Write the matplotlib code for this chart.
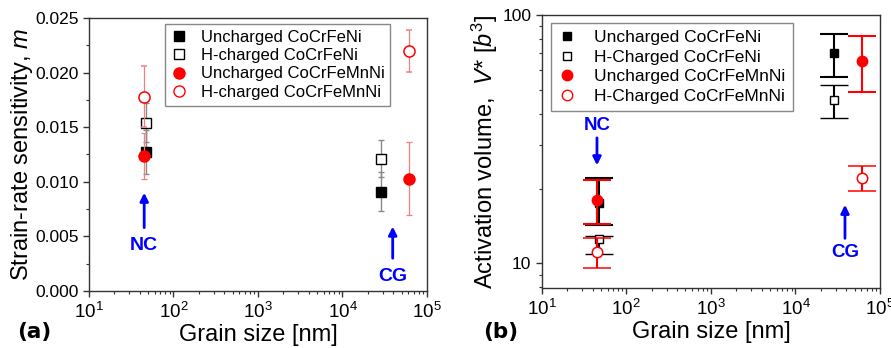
import matplotlib
matplotlib.use("Agg")
import matplotlib.pyplot as plt
from matplotlib.lines import Line2D
from matplotlib.ticker import MultipleLocator, FormatStrFormatter, LogLocator, NullFormatter
import numpy as np

plt.rcParams['font.family'] = ['Liberation Sans', 'DejaVu Sans']
plt.rcParams['mathtext.fontset'] = 'custom'
plt.rcParams['mathtext.rm'] = 'Liberation Sans'
plt.rcParams['mathtext.it'] = 'Liberation Sans:italic'
plt.rcParams['mathtext.bf'] = 'Liberation Sans:bold'

# ---------------- data ----------------
series_labels_a = ["Uncharged CoCrFeNi", "H-charged CoCrFeNi",
                   "Uncharged CoCrFeMnNi", "H-charged CoCrFeMnNi"]
series_labels_b = ["Uncharged CoCrFeNi", "H-Charged CoCrFeNi",
                   "Uncharged CoCrFeMnNi", "H-Charged CoCrFeMnNi"]

# grain sizes [nm]
grain_fe_ni = [47, 28300]
grain_fe_mn_ni = [45, 61000]

# (a) strain-rate sensitivity m
m_unch_feni = [0.0127, 0.0091]
m_unch_feni_err = [0.0020, 0.0018]
m_h_feni = [0.0154, 0.0121]
m_h_feni_err = [0.0018, 0.0017]
m_unch_femnni = [0.0124, 0.0103]
m_unch_femnni_err = [0.0021, 0.0033]
m_h_femnni = [0.0178, 0.0220]
m_h_femnni_err = [0.0028, 0.0019]

# (b) activation volume V* [b^3]  (value, lower, upper)
v_unch_feni = [17.5, 70.0]
v_unch_feni_lo = [14.3, 56.5]
v_unch_feni_hi = [22.1, 83.5]
v_h_feni = [12.5, 45.5]
v_h_feni_lo = [10.9, 38.6]
v_h_feni_hi = [12.9, 52.3]
v_unch_femnni = [18.0, 65.5]
v_unch_femnni_lo = [14.4, 48.9]
v_unch_femnni_hi = [21.6, 82.6]
v_h_femnni = [11.1, 22.1]
v_h_femnni_lo = [9.55, 19.6]
v_h_femnni_hi = [12.7, 24.7]

RED = '#ff0000'
BLUE = '#0000ff'
SPINE = '#333333'

fig = plt.figure(figsize=(8.91, 3.48), dpi=100)
axa = fig.add_axes([0.0999, 0.1638, 0.3793, 0.7845])
axb = fig.add_axes([0.608, 0.1716, 0.3797, 0.7853])

def style_axes(ax):
    for s in ax.spines.values():
        s.set_color(SPINE)
        s.set_linewidth(1.0)
    ax.tick_params(which='both', direction='out', top=False, right=False,
                   colors=SPINE, labelcolor='black')
    ax.tick_params(axis='y', labelsize=12.5)
    ax.tick_params(axis='x', labelsize=13.5, pad=4)
    ax.tick_params(which='major', length=4, width=1)
    ax.tick_params(which='minor', length=2.5, width=0.8)

# ---------------- panel (a) ----------------
ax = axa
ax.set_xscale('log')
ax.errorbar(grain_fe_ni, m_unch_feni, yerr=m_unch_feni_err, fmt='s', color='black',
            ms=6.5, ecolor='#8a8a8a', elinewidth=1.0, capsize=2.5, capthick=1.0, zorder=3)
ax.errorbar(grain_fe_ni, m_h_feni, yerr=m_h_feni_err, fmt='s', color='black', mfc='white',
            ms=6.5, mew=1.0, ecolor='#8a8a8a', elinewidth=1.0, capsize=2.5, capthick=1.0, zorder=3)
ax.errorbar(grain_fe_mn_ni, m_unch_femnni, yerr=m_unch_femnni_err, fmt='o', color=RED,
            ms=8, ecolor='#f08080', elinewidth=0.9, capsize=2.5, capthick=0.9, zorder=4)
ax.errorbar(grain_fe_mn_ni, m_h_femnni, yerr=m_h_femnni_err, fmt='o', color=RED, mfc='white',
            ms=8, mew=1.1, ecolor='#f08080', elinewidth=0.9, capsize=2.5, capthick=0.9, zorder=4)
ax.set_xlim(10, 1e5)
ax.set_ylim(0, 0.025)
ax.yaxis.set_major_locator(MultipleLocator(0.005))
ax.yaxis.set_minor_locator(MultipleLocator(0.0025))
ax.yaxis.set_major_formatter(FormatStrFormatter('%.3f'))
ax.xaxis.set_major_locator(LogLocator(base=10, numticks=10))
ax.xaxis.set_minor_locator(LogLocator(base=10, subs=np.arange(2, 10), numticks=20))
ax.xaxis.set_minor_formatter(NullFormatter())
style_axes(ax)
ax.set_xlabel('Grain size [nm]', fontsize=17, labelpad=1)
ax.set_ylabel(r'Strain-rate sensitivity, $\mathit{m}$', fontsize=17, labelpad=0)

handles_a = [
    Line2D([], [], ls='none', marker='s', color='black', ms=6.5),
    Line2D([], [], ls='none', marker='s', color='black', mfc='white', ms=6.5),
    Line2D([], [], ls='none', marker='o', color=RED, ms=8),
    Line2D([], [], ls='none', marker='o', color=RED, mfc='white', ms=8),
]
leg = ax.legend(handles_a, series_labels_a, loc='upper left', bbox_to_anchor=(0.225, 0.978),
                fontsize=12, frameon=True, fancybox=False, framealpha=1, edgecolor='#888888',
                handlelength=1.0, handletextpad=0.8, labelspacing=0.2, borderpad=0.35,
                borderaxespad=0)
leg.get_frame().set_linewidth(1.0)

ax.annotate('', xy=(45, 0.0090), xytext=(45, 0.0058),
            arrowprops=dict(arrowstyle='-|>', color=BLUE, lw=2, mutation_scale=12, shrinkA=0, shrinkB=0))
ax.text(45, 0.0042, 'NC', color=BLUE, fontsize=14, fontweight='bold', ha='center', va='center')
ax.annotate('', xy=(39300, 0.0059), xytext=(39300, 0.0030),
            arrowprops=dict(arrowstyle='-|>', color=BLUE, lw=2, mutation_scale=12, shrinkA=0, shrinkB=0))
ax.text(39300, 0.00135, 'CG', color=BLUE, fontsize=14, fontweight='bold', ha='center', va='center')

# ---------------- panel (b) ----------------
ax = axb
ax.set_xscale('log')
ax.set_yscale('log')

def asym(v, lo, hi):
    v = np.asarray(v); lo = np.asarray(lo); hi = np.asarray(hi)
    return np.vstack([v - lo, hi - v])

ax.errorbar(grain_fe_ni, v_unch_feni, yerr=asym(v_unch_feni, v_unch_feni_lo, v_unch_feni_hi),
            fmt='s', color='black', ms=6, ecolor='black', elinewidth=1.5, capsize=10, capthick=1.5, zorder=3)
ax.errorbar(grain_fe_ni, v_h_feni, yerr=asym(v_h_feni, v_h_feni_lo, v_h_feni_hi),
            fmt='s', color='black', mfc='white', ms=6, mew=1.0, ecolor='black', elinewidth=1.5,
            capsize=10, capthick=1.5, zorder=3)
ax.errorbar(grain_fe_mn_ni, v_unch_femnni, yerr=asym(v_unch_femnni, v_unch_femnni_lo, v_unch_femnni_hi),
            fmt='o', color=RED, ms=7.5, ecolor=RED, elinewidth=1.5, capsize=10, capthick=1.5, zorder=4)
ax.errorbar(grain_fe_mn_ni, v_h_femnni, yerr=asym(v_h_femnni, v_h_femnni_lo, v_h_femnni_hi),
            fmt='o', color=RED, mfc='white', ms=7.5, mew=1.1, ecolor=RED, elinewidth=1.5,
            capsize=10, capthick=1.5, zorder=4)
ax.set_xlim(10, 1e5)
ax.set_ylim(7.93, 100)
ax.xaxis.set_major_locator(LogLocator(base=10, numticks=10))
ax.xaxis.set_minor_locator(LogLocator(base=10, subs=np.arange(2, 10), numticks=20))
ax.xaxis.set_minor_formatter(NullFormatter())
ax.yaxis.set_major_locator(LogLocator(base=10, numticks=10))
ax.yaxis.set_minor_locator(LogLocator(base=10, subs=np.arange(2, 10), numticks=20))
ax.yaxis.set_minor_formatter(NullFormatter())
ax.yaxis.set_major_formatter(FormatStrFormatter('%d'))
style_axes(ax)
ax.set_xlabel('Grain size [nm]', fontsize=17, labelpad=1)
ax.set_ylabel(r'Activation volume,  $\mathit{V}$* [$\mathit{b}^3$]', fontsize=17, labelpad=2)

handles_b = [
    Line2D([], [], ls='none', marker='s', color='black', ms=6),
    Line2D([], [], ls='none', marker='s', color='black', mfc='white', ms=6),
    Line2D([], [], ls='none', marker='o', color=RED, ms=7.5),
    Line2D([], [], ls='none', marker='o', color=RED, mfc='white', ms=7.5),
]
leg = ax.legend(handles_b, series_labels_b, loc='upper left', bbox_to_anchor=(0.0275, 0.971),
                fontsize=12.5, frameon=True, fancybox=False, framealpha=1, edgecolor='#888888',
                handlelength=1.0, handletextpad=1.1, labelspacing=0.26, borderpad=0.4,
                borderaxespad=0)
leg.get_frame().set_linewidth(1.0)

ax.annotate('', xy=(45, 24.8), xytext=(45, 32.0),
            arrowprops=dict(arrowstyle='-|>', color=BLUE, lw=2, mutation_scale=12, shrinkA=0, shrinkB=0))
ax.text(45, 35.8, 'NC', color=BLUE, fontsize=13.5, fontweight='bold', ha='center', va='center')
ax.annotate('', xy=(38500, 17.2), xytext=(38500, 12.6),
            arrowprops=dict(arrowstyle='-|>', color=BLUE, lw=2, mutation_scale=12, shrinkA=0, shrinkB=0))
ax.text(38500, 11.0, 'CG', color=BLUE, fontsize=13.5, fontweight='bold', ha='center', va='center')

# panel labels
fig.text(0.019, 0.045, '(a)', fontsize=15.5, fontweight='bold', family='DejaVu Sans', ha='left', va='center')
fig.text(0.542, 0.045, '(b)', fontsize=15.5, fontweight='bold', family='DejaVu Sans', ha='left', va='center')

fig.savefig('out.png', dpi=100)
